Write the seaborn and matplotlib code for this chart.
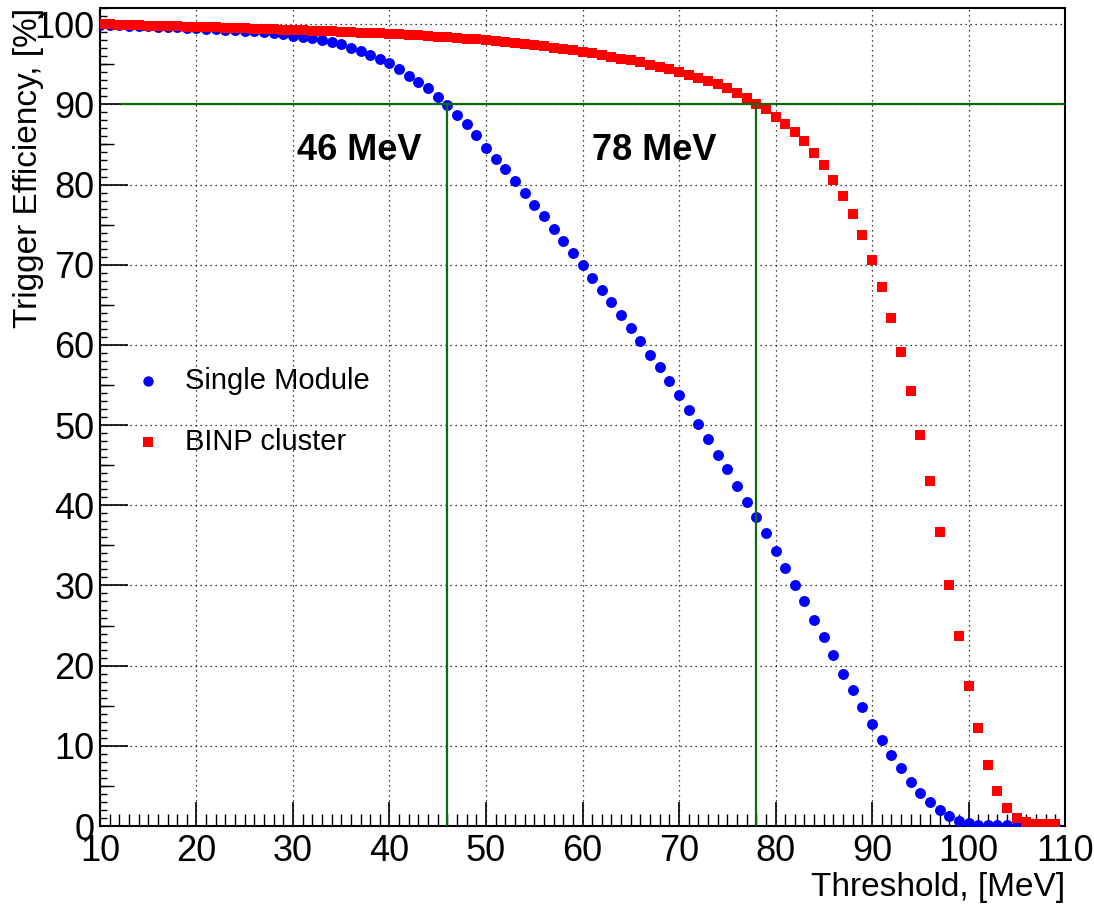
import numpy as np
import pandas as pd
import matplotlib
matplotlib.use("Agg")
import matplotlib.pyplot as plt
from matplotlib.ticker import MultipleLocator, FixedLocator, NullFormatter
import seaborn as sns

# Threshold scan, 1 MeV steps
threshold = list(range(10, 110))

single_module = [
    99.9, 99.88, 99.85, 99.82, 99.79, 99.75, 99.71, 99.67, 99.62, 99.57,
    99.52, 99.46, 99.4, 99.33, 99.26, 99.18, 99.1, 99.0, 98.9, 98.75,
    98.55, 98.4, 98.25, 98.0, 97.8, 97.5, 97.05, 96.65, 96.2, 95.6,
    95.1, 94.4, 93.6, 92.8, 92.0, 90.9, 89.9, 88.65, 87.5, 86.2,
    84.6, 83.2, 81.9, 80.5, 79.0, 77.5, 76.1, 74.4, 73.0, 71.5,
    70.0, 68.4, 66.8, 65.4, 63.7, 62.1, 60.5, 58.8, 57.3, 55.5,
    53.7, 51.9, 50.1, 48.3, 46.3, 44.5, 42.4, 40.4, 38.6, 36.5,
    34.3, 32.2, 30.1, 28.0, 25.7, 23.6, 21.3, 19.0, 17.0, 14.9,
    12.7, 10.7, 8.85, 7.2, 5.5, 4.15, 3.0, 2.0, 1.2, 0.66,
    0.4, 0.1, 0.1, 0.1, 0.1, 0.05, 0.02, 0.0, 0.0, 0.0,
]

binp_cluster = [
    100.0, 99.97, 99.93, 99.9, 99.87, 99.83, 99.8, 99.77, 99.73, 99.7,
    99.67, 99.63, 99.6, 99.56, 99.52, 99.48, 99.45, 99.41, 99.37, 99.33,
    99.29, 99.24, 99.2, 99.15, 99.1, 99.05, 99.0, 98.95, 98.9, 98.85,
    98.8, 98.73, 98.66, 98.59, 98.52, 98.45, 98.37, 98.29, 98.2, 98.1,
    98.0, 97.88, 97.76, 97.63, 97.5, 97.36, 97.22, 97.06, 96.9, 96.72,
    96.54, 96.35, 96.15, 95.94, 95.72, 95.48, 95.23, 94.96, 94.68, 94.38,
    94.06, 93.72, 93.35, 92.95, 92.52, 92.05, 91.4, 90.75, 90.0, 89.4,
    88.4, 87.6, 86.5, 85.4, 83.9, 82.4, 80.6, 78.6, 76.3, 73.7,
    70.6, 67.2, 63.4, 59.1, 54.2, 48.8, 43.0, 36.7, 30.1, 23.7,
    17.5, 12.2, 7.6, 4.4, 2.2, 1.0, 0.5, 0.3, 0.2, 0.2,
]

# 90% efficiency working points
efficiency_level = 90
working_points = [46, 78]
working_labels = ["46 MeV", "78 MeV"]

df = pd.DataFrame({
    "threshold": threshold,
    "single": single_module,
    "binp": binp_cluster,
})

sns.set_theme(style="white")
plt.rcParams["font.family"] = ["Liberation Sans", "DejaVu Sans"]
plt.rcParams.update({
    "text.color": "black",
    "axes.labelcolor": "black",
    "xtick.color": "black",
    "ytick.color": "black",
})

fig = plt.figure(figsize=(10.94, 9.06), dpi=100)
ax = fig.add_axes([0.0914, 0.0883, 0.8821, 0.9027])

sns.scatterplot(data=df, x="threshold", y="single", ax=ax, marker="o",
                color="#0000ff", s=62, linewidth=0, label="Single Module",
                zorder=3)
sns.scatterplot(data=df, x="threshold", y="binp", ax=ax, marker="s",
                color="#ff0000", s=58, linewidth=0, label="BINP cluster",
                zorder=4)

green = "#0b6a0b"
ax.hlines(efficiency_level, 12.2, 110, color=green, lw=1.6, zorder=5)
for wp in working_points:
    ax.vlines(wp, 0, efficiency_level, color=green, lw=1.6, zorder=5)
ax.text(36.9, 84.3, working_labels[0], fontsize=26, fontweight="bold",
        ha="center", va="center", color="black")
ax.text(67.4, 84.3, working_labels[1], fontsize=26, fontweight="bold",
        ha="center", va="center", color="black")

ax.set_xlim(10, 110)
ax.set_ylim(0, 102)
ax.xaxis.set_major_locator(MultipleLocator(10))
ax.xaxis.set_minor_locator(MultipleLocator(1))
ax.yaxis.set_major_locator(MultipleLocator(10))
ax.yaxis.set_minor_locator(MultipleLocator(1))

ax.grid(True, which="major", color="black", linestyle=(0, (1, 3)), lw=0.9)
ax.set_axisbelow(True)

ax.tick_params(axis="x", which="major", direction="in", length=17, width=1.2,
               labelsize=26, pad=6, color="black")
ax.tick_params(axis="x", which="minor", direction="in", length=8.5, width=1.0,
               color="black")
ax.tick_params(axis="y", which="major", direction="in", length=20, width=1.2,
               labelsize=26, pad=4, color="black")
ax.tick_params(axis="y", which="minor", direction="in", length=5, width=1.0,
               color="black")
ax.tick_params(bottom=True, left=True, top=False, right=False, which="both")

# Mid-length ticks at every 5 % on the efficiency axis
sec = ax.secondary_yaxis("left")
sec.yaxis.set_major_locator(FixedLocator(np.arange(5, 101, 10)))
sec.yaxis.set_major_formatter(NullFormatter())
sec.tick_params(direction="in", length=10, width=1.0, color="black")
sec.spines["left"].set_visible(False)

for sp in ax.spines.values():
    sp.set_color("black")
    sp.set_linewidth(1.5)

ax.set_xlabel("Threshold, [MeV]", fontsize=24, loc="right", labelpad=2)
ax.set_ylabel("Trigger Efficiency, [%]", fontsize=24, loc="top", labelpad=-7)

leg = ax.legend(loc="center left", bbox_to_anchor=(0.0347, 0.507),
                frameon=False, fontsize=21, markerscale=0.95,
                handlelength=1.0, handletextpad=0.75, labelspacing=1.15,
                borderpad=0, borderaxespad=0)

fig.savefig("out.png", dpi=100)
